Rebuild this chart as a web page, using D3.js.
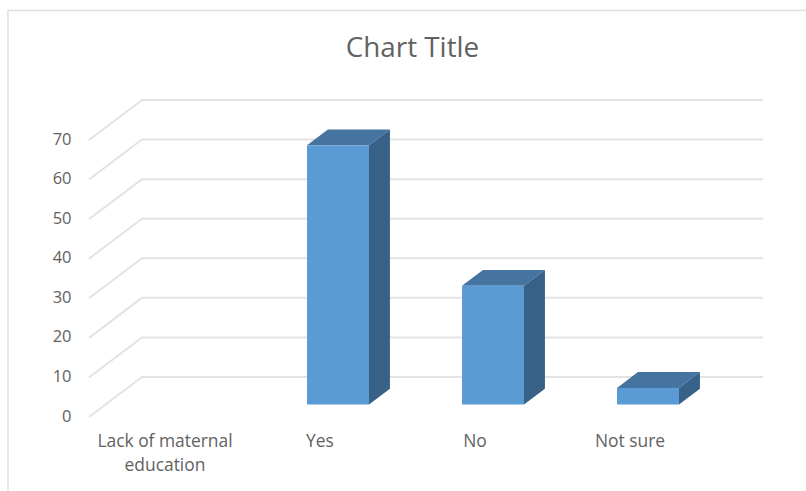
<!DOCTYPE html>
<html><head><meta charset="utf-8">
<script src="https://cdn.jsdelivr.net/npm/d3@7"></script>
<style>html,body{margin:0;background:#fff}svg{display:block}text{font-family:"Open Sans",sans-serif;fill:#626262}</style>
</head><body><svg id="c" width="806" height="491"></svg>
<script>
const categories = ["Lack of maternal education","Yes","No","Not sure"];
const values = [0,65.5,30,4.2];
const yTicks = [0,10,20,30,40,50,60,70];
const titleText = "Chart Title";

const svg = d3.select("#c");
// frame
svg.append("path").attr("d","M8,491V10.5H806").attr("fill","none").attr("stroke","#e0e0e0").attr("stroke-width",1.5);
svg.append("text").attr("x",412.5).attr("y",57).attr("text-anchor","middle").attr("font-size",27.8).text(titleText);

// 3D geometry: front edge of floor -> back wall
const dx=53, dy=-40;
const y = d3.scaleLinear().domain([0,70]).range([417,140]);
const x = d3.scaleBand().domain(categories).range([105.5,725.5]).paddingInner(0.6).paddingOuter(0.3);
const barDepthFront=0.325, barDepthBack=0.72;

const grid = svg.append("g").attr("fill","none").attr("stroke","#e3e3e3").attr("stroke-width",2);
yTicks.forEach(t=>{
  grid.append("path").attr("d",d3.line()([[89,y(t)],[89+dx,y(t)+dy],[763,y(t)+dy]]));
});
svg.append("g").selectAll("text").data(yTicks).join("text")
  .attr("x",71.5).attr("y",t=>y(t)+4.5).attr("text-anchor","end").attr("font-size",16.5).text(t=>t);

const fx=barDepthFront*dy, bx=(barDepthBack-barDepthFront)*dx, by=(barDepthBack-barDepthFront)*dy;
const bars = svg.append("g").selectAll("g").data(categories.map((c,i)=>({c,v:values[i]})).filter(d=>d.v>0)).join("g");
const bw=x.bandwidth();
const base=y(0)+fx+0.5;
const top_=d=>base-(y(0)-y(d.v));
bars.append("path").attr("fill","#44749f").attr("d",d=>{const X=x(d.c),T=top_(d);return `M${X},${T}L${X+bx},${T+by}H${X+bw+bx}L${X+bw},${T}Z`;});
bars.append("path").attr("fill","#376187").attr("d",d=>{const X=x(d.c)+bw,T=top_(d);return `M${X},${T}L${X+bx},${T+by}V${base+by}L${X},${base}Z`;});
bars.append("rect").attr("fill","#5b9bd5").attr("x",d=>x(d.c)).attr("width",bw).attr("y",top_).attr("height",d=>base-top_(d));

const labels = svg.append("g").selectAll("text").data(categories).join("text")
  .attr("text-anchor","middle").attr("font-size",17.4);
labels.each(function(c){
  const cx=x(c)+bw/2-18;
  const t=d3.select(this);
  const parts=c==="Lack of maternal education"?["Lack of maternal","education"]:[c];
  parts.forEach((p,i)=>t.append("tspan").attr("x",cx).attr("y",447+i*24).text(p));
});
</script></body></html>
